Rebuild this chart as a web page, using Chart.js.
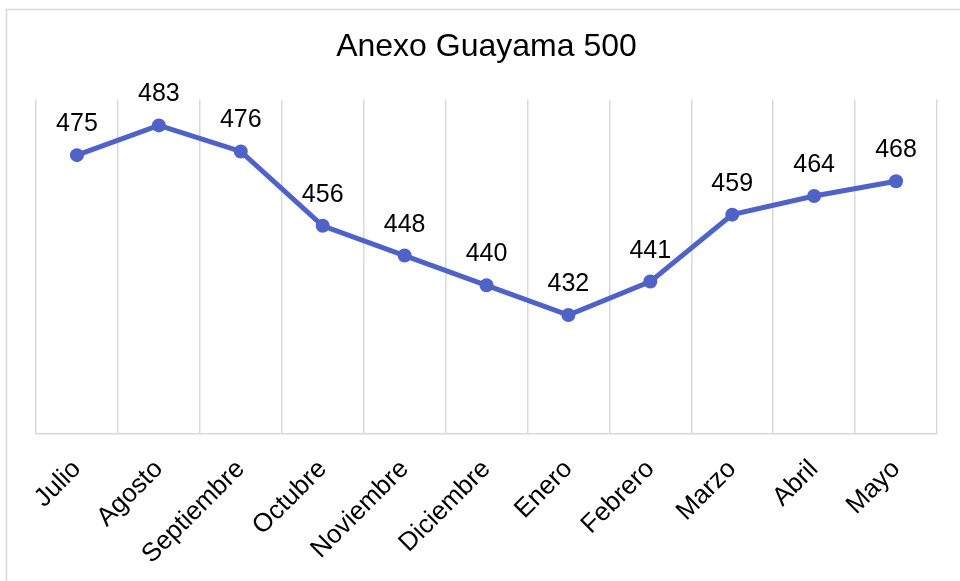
<!DOCTYPE html>
<html>
<head>
<meta charset="utf-8">
<script src="https://cdn.jsdelivr.net/npm/chart.js@4/dist/chart.umd.min.js"></script>
<style>
html,body{margin:0;padding:0;background:#fff;}
#wrap{position:absolute;left:0;top:0;width:960px;height:581px;}
</style>
</head>
<body>
<div id="wrap"><canvas id="c" width="960" height="581"></canvas></div>
<script>
const chartTitle = "Anexo Guayama 500";
const categories = ["Julio","Agosto","Septiembre","Octubre","Noviembre","Diciembre","Enero","Febrero","Marzo","Abril","Mayo"];
const values = [475,483,476,456,448,440,432,441,459,464,468];
const yMin = 400;
const yMax = 490;

const lineColor = "#4e62c8";
const gridColor = "#d9d9d9";
const font = "'Liberation Sans', Arial, sans-serif";

const frame = {
  id: 'frame',
  beforeDraw(chart) {
    const ctx = chart.ctx;
    ctx.save();
    ctx.fillStyle = '#fff';
    ctx.fillRect(0, 0, chart.width, chart.height);
    ctx.strokeStyle = gridColor;
    ctx.lineWidth = 1.5;
    ctx.strokeRect(6.5, 9.5, 1200, 1200);
    ctx.restore();
  }
};

const dataLabels = {
  id: 'dataLabels',
  afterDatasetsDraw(chart) {
    const ctx = chart.ctx;
    ctx.save();
    ctx.font = "25px " + font;
    ctx.fillStyle = "#000";
    ctx.textAlign = "center";
    ctx.textBaseline = "alphabetic";
    chart.data.datasets.forEach((ds, di) => {
      const meta = chart.getDatasetMeta(di);
      meta.data.forEach((pt, i) => {
        ctx.fillText(String(ds.data[i]), pt.x, pt.y - 24);
      });
    });
    ctx.restore();
  }
};

new Chart(document.getElementById('c'), {
  type: 'line',
  data: {
    labels: categories,
    datasets: [{
      data: values,
      borderColor: lineColor,
      backgroundColor: lineColor,
      borderWidth: 5,
      pointRadius: 7,
      pointHoverRadius: 7,
      pointBackgroundColor: lineColor,
      pointBorderColor: lineColor,
      pointBorderWidth: 0,
      tension: 0,
      clip: false
    }]
  },
  options: {
    responsive: false,
    animation: false,
    devicePixelRatio: 1,
    layout: { padding: { left: 36, right: 23, top: 0, bottom: 0 } },
    plugins: {
      legend: { display: false },
      tooltip: { enabled: false },
      title: {
        display: true,
        text: chartTitle,
        color: '#000',
        font: { family: font, size: 32, weight: 'normal', lineHeight: 1.2 },
        padding: { top: 28, bottom: 33 }
      }
    },
    scales: {
      x: {
        offset: true,
        grid: { display: true, offset: true, color: gridColor, lineWidth: 1.5, drawTicks: false },
        border: { display: true, color: gridColor, width: 1.5 },
        ticks: {
          color: '#000',
          font: { family: font, size: 26 },
          minRotation: 45,
          maxRotation: 45,
          padding: 20,
          autoSkip: false
        },
        afterFit(s) { s.height = 147; }
      },
      y: {
        display: false,
        min: yMin,
        max: yMax
      }
    }
  },
  plugins: [frame, dataLabels]
});
</script>
</body>
</html>
